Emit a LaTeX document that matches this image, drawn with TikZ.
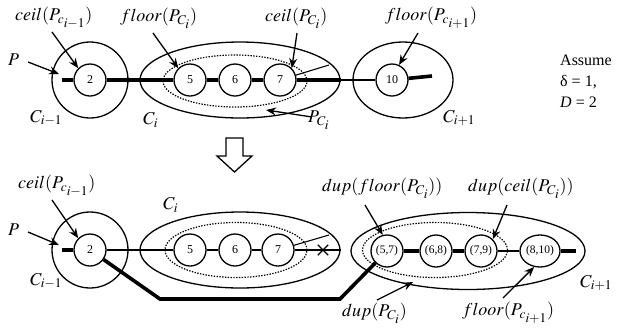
\documentclass[tikz,border=0pt]{standalone}
\usepackage{mathptmx}
\usepackage[no-math]{fontspec}
\setmainfont{Liberation Serif}
\usetikzlibrary{shapes.geometric,shapes.misc,arrows.meta}
\newcommand{\sbsb}[1]{{\scriptstyle #1}}
\begin{document}
\begin{tikzpicture}[x=1pt,y=-1pt,
  num/.style={circle,draw,line width=1.3pt,fill=white,minimum size=32pt,inner sep=0pt,font=\fontsize{12}{14}\selectfont},
  dnum/.style={ellipse,draw,line width=1.3pt,fill=white,minimum width=32pt,minimum height=32pt,inner sep=0pt,font=\fontsize{11.5}{13}\selectfont},
  clus/.style={ellipse,draw,line width=1.3pt,inner sep=0pt},
  pset/.style={ellipse,draw,line width=1.2pt,dash pattern=on 1.4pt off 1.4pt,inner sep=0pt},
  fat/.style={line width=3.6pt},
  slim/.style={line width=1.1pt},
  arr/.style={line width=1.3pt,-{Stealth[length=10pt,width=8pt]}},
  lab/.style={anchor=west,inner sep=0pt,font=\fontsize{18}{20}\selectfont},
  clab/.style={anchor=west,inner sep=0pt,font=\fontsize{18}{20}\selectfont},
]
\useasboundingbox (0,0) rectangle (619,333);

% ---------- top row ----------
\node[clus,minimum width=76pt,minimum height=76pt] (tC0) at (90,80) {};
\node[clus,minimum width=200pt,minimum height=76pt] (tC1) at (240,80) {};
\node[pset,minimum width=144pt,minimum height=52pt] (tP) at (235,81) {};
\node[clus,minimum width=100pt,minimum height=76pt] (tC2) at (403,80) {};
\node[num] (t2) at (90,80) {2};
\node[num] (t5) at (190,80) {5};
\node[num] (t6) at (235,80) {6};
\node[num] (t7) at (280,80) {7};
\node[num] (t10) at (392,80) {10};
\coordinate (tPs) at (62,80);
\coordinate (tout) at (329,65);
\coordinate (tend) at (432,76);
\draw[fat] (tPs) -- (t2) -- (t5) -- (t6) -- (t7) -- (tC1.east);
\draw[line width=2.6pt] (tC1.east) -- (t10);
\draw[fat] (t10) -- (tend);
\draw[slim] (t7) -- (tout);

\node[lab] (lt1) at (15,18) {$ceil(P_{c_{\sbsb{i-1}}})$};
\node[lab] (lt2) at (8,60) {$P$};
\node[lab] (lt3) at (120,18) {$floor(P_{C_{\sbsb{i}}})$};
\node[lab] (lt4) at (265,18) {$ceil(P_{C_{\sbsb{i}}})$};
\node[lab] (lt5) at (385,18) {$floor(P_{c_{\sbsb{i+1}}})$};
\node[lab] (lt6) at (308,120) {$P_{C_{\sbsb{i}}}$};
\node[clab] (ct0) at (30,118) {$C_{i-1}$};
\node[clab] (ct1) at (143,120) {$C_i$};
\node[clab] (ct2) at (443,118) {$C_{i+1}$};

\coordinate (ta1) at (52,32);
\coordinate (ta2) at (28,62);
\coordinate (ta2h) at (59,74);
\coordinate (ta3) at (153,33);
\coordinate (ta4) at (297,33);
\coordinate (ta5) at (418,33);
\coordinate (ta6) at (312,117);
\coordinate (ta6h) at (266,110);
\draw[arr] (ta1) -- (t2.north west);
\draw[arr] (ta2) -- (ta2h);
\draw[arr] (ta3) -- (t5.north west);
\draw[arr] (ta4) -- (t7.north east);
\draw[arr] (ta5) -- (t10.65);
\draw[arr] (ta6) -- (ta6h);

\node[anchor=west,inner sep=0pt,font=\fontsize{16}{21}\selectfont,align=left] (asm) at (560,81) {Assume\\δ = 1,\\\textit{D} = 2};

% ---------- block arrow ----------
\draw[line width=1.3pt,fill=white] (226,138) -- (243,138) -- (243,156) -- (252,156) -- (234.5,172) -- (217,156) -- (226,156) -- cycle;

% ---------- bottom row ----------
\node[clus,minimum width=76pt,minimum height=76pt] (bC0) at (90,250) {};
\node[clus,minimum width=200pt,minimum height=76pt] (bC1) at (240,250) {};
\node[pset,minimum width=142pt,minimum height=55pt] (bP) at (236,250) {};
\node[clus,minimum width=234pt,minimum height=77pt] (bC2) at (468,251) {};
\node[pset,minimum width=145pt,minimum height=55pt] (bD) at (435,250) {};
\node[num] (b2) at (90,250) {2};
\node[num] (b5) at (190,250) {5};
\node[num] (b6) at (235,250) {6};
\node[num] (b7) at (278,250) {7};
\node[dnum] (d57) at (387,251) {(5,7)};
\node[dnum] (d68) at (436,251) {(6,8)};
\node[dnum] (d79) at (481,251) {(7,9)};
\node[dnum,minimum width=40pt] (d810) at (540,251) {(8,10)};
\coordinate (bPs) at (62,250);
\coordinate (bout) at (329,235);
\coordinate (bk1) at (160,299);
\coordinate (bk2) at (340,299);
\coordinate (bend) at (576,251);
\node[cross out,draw,line width=1.3pt,minimum size=9pt,inner sep=0pt] (bx) at (323,250) {};

\draw[fat] (bPs) -- (b2);
\draw[slim] (b2) -- (b5) -- (b6) -- (b7) -- (bC1.east);
\draw[slim] (b7) -- (bout);
\draw[fat] (b2) -- (bk1) -- (bk2) -- (d57);
\draw[fat] (d57) -- (d68) -- (d79);
\draw[line width=1.6pt] (d79) -- (d810);
\draw[fat] (d810) -- (bend);

\node[lab] (lb1) at (18,186) {$ceil(P_{c_{\sbsb{i-1}}})$};
\node[lab] (lb2) at (8,230) {$P$};
\node[lab] (lb3) at (322,188) {$dup(floor(P_{C_{\sbsb{i}}}))$};
\node[lab] (lb4) at (468,188) {$dup(ceil(P_{C_{\sbsb{i}}}))$};
\node[lab] (lb5) at (342,313) {$dup(P_{C_{\sbsb{i}}})$};
\node[lab] (lb6) at (462,313) {$floor(P_{c_{\sbsb{i+1}}})$};
\node[clab] (cb0) at (30,281) {$C_{i-1}$};
\node[clab] (cb1) at (163,205) {$C_i$};
\node[clab] (cb2) at (580,283) {$C_{i+1}$};

\coordinate (ba1) at (52,200);
\coordinate (ba2) at (28,232);
\coordinate (ba2h) at (59,245);
\coordinate (ba3) at (365,205);
\coordinate (ba4) at (507,205);
\coordinate (ba5) at (377,300);
\coordinate (ba5h) at (413,282);
\coordinate (ba6) at (503,298);
\draw[arr] (ba1) -- (b2.north west);
\draw[arr] (ba2) -- (ba2h);
\draw[arr] (ba3) -- (d57.105);
\draw[arr] (ba4) -- (d79.north east);
\draw[arr] (ba5) -- (ba5h);
\draw[arr] (ba6) -- (d810.250);
\end{tikzpicture}
\end{document}
